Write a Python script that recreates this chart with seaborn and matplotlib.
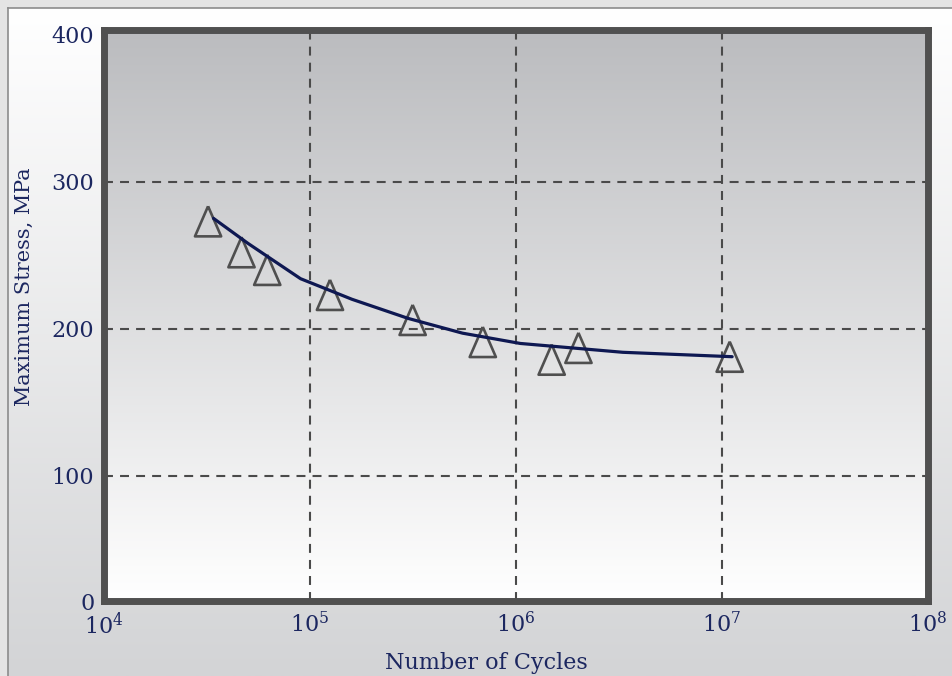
import matplotlib.pyplot as plt
import numpy as np
import pandas as pd
import seaborn as sns
from matplotlib.colors import LinearSegmentedColormap

# measured S-N points
cycles = [3.2e4, 4.65e4, 6.2e4, 1.25e5, 3.15e5, 6.9e5, 1.49e6, 2.01e6, 1.09e7]
stress = [273, 252, 240, 223, 206, 191, 179, 187, 181]

# fitted curve
fit_cycles = [3.4e4, 5e4, 9e4, 1.6e5, 3e5, 5.5e5, 1.05e6, 3.3e6, 1.12e7]
fit_stress = [275, 258, 234, 220, 207, 197, 190, 184, 181]

y_ticks = [15, 100, 200, 300, 400]
y_tick_labels = ["0", "100", "200", "300", "400"]
x_ticks = [1e4, 1e5, 1e6, 1e7, 1e8]

pts = pd.DataFrame({"cycles": cycles, "stress": stress})
fit = pd.DataFrame({"cycles": fit_cycles, "stress": fit_stress})

sns.set_theme(style="white")
plt.rcParams["font.family"] = ["DejaVu Serif"]
plt.rcParams["mathtext.fontset"] = "dejavuserif"

navy = "#1c2760"
frame = "#505050"

fig = plt.figure(figsize=(9.53, 6.76), dpi=100)
fig.patch.set_facecolor("#e4e4e4")

# panel behind the chart: white at top, grey at bottom
panel = fig.add_axes([8 / 953, 0, 1 - 8 / 953, 1 - 8 / 676])
panel_cmap = LinearSegmentedColormap.from_list("panel", ["#d3d4d6", "#ffffff"])
panel.imshow(np.linspace(0, 1, 256).reshape(-1, 1), cmap=panel_cmap, aspect="auto",
             extent=[0, 1, 0, 1], origin="lower")
panel.set_xlim(0, 1)
panel.set_ylim(0, 1)
panel.set_xticks([])
panel.set_yticks([])
for s in ["left", "top"]:
    panel.spines[s].set_color("#8c8c8c")
    panel.spines[s].set_linewidth(1.2)
for s in ["right", "bottom"]:
    panel.spines[s].set_visible(False)

pos = [104 / 953, 1 - 601 / 676, (928 - 104) / 953, (601 - 30) / 676]

# plot-area gradient
bg = fig.add_axes(pos)
bg_cmap = LinearSegmentedColormap.from_list("bg", ["#ffffff", "#bbbcbf"])
bg.imshow(np.linspace(0, 1, 256).reshape(-1, 1), cmap=bg_cmap, aspect="auto",
          extent=[0, 1, 0, 1], origin="lower")
bg.axis("off")

ax = fig.add_axes(pos)
ax.patch.set_alpha(0)

tri = [(0, 1), (-0.87, -1), (0.87, -1), (0, 1)]
sns.scatterplot(data=pts, x="cycles", y="stress", marker=tri, s=470,
                facecolors="none", edgecolor="#4f4f4f", linewidth=1.9, ax=ax, zorder=3)
sns.lineplot(data=fit, x="cycles", y="stress", color="#0e1852", linewidth=2.3,
             ax=ax, zorder=4)

ax.set_xscale("log")
ax.set_xlim(1e4, 1e8)
ax.set_ylim(15, 403)
ax.set_xticks(x_ticks)
ax.minorticks_off()
ax.set_yticks(y_ticks)
ax.set_yticklabels(y_tick_labels)

ax.set_axisbelow(True)
ax.grid(True, color="#4a4a4a", linewidth=1.5, linestyle=(0, (4.3, 3.4)))
ax.yaxis.get_gridlines()[-1].set_visible(False)
ax.yaxis.get_gridlines()[0].set_visible(False)
for s in ax.spines.values():
    s.set_color(frame)
    s.set_linewidth(5)
    s.set_zorder(5)

ax.tick_params(axis="both", length=0, labelsize=16, colors=navy)
ax.tick_params(axis="y", pad=7)
ax.tick_params(axis="x", pad=8)

ax.set_xlabel("Number of Cycles", fontsize=16, color=navy)
ax.set_ylabel("Maximum Stress, MPa", fontsize=15, color=navy)
ax.xaxis.set_label_coords((486 - 104) / 824, -(652 - 601) / 571)
ax.yaxis.set_label_coords(-(104 - 34) / 824, (601 - 287) / 571)

fig.savefig("out.png", dpi=100, facecolor=fig.get_facecolor())
